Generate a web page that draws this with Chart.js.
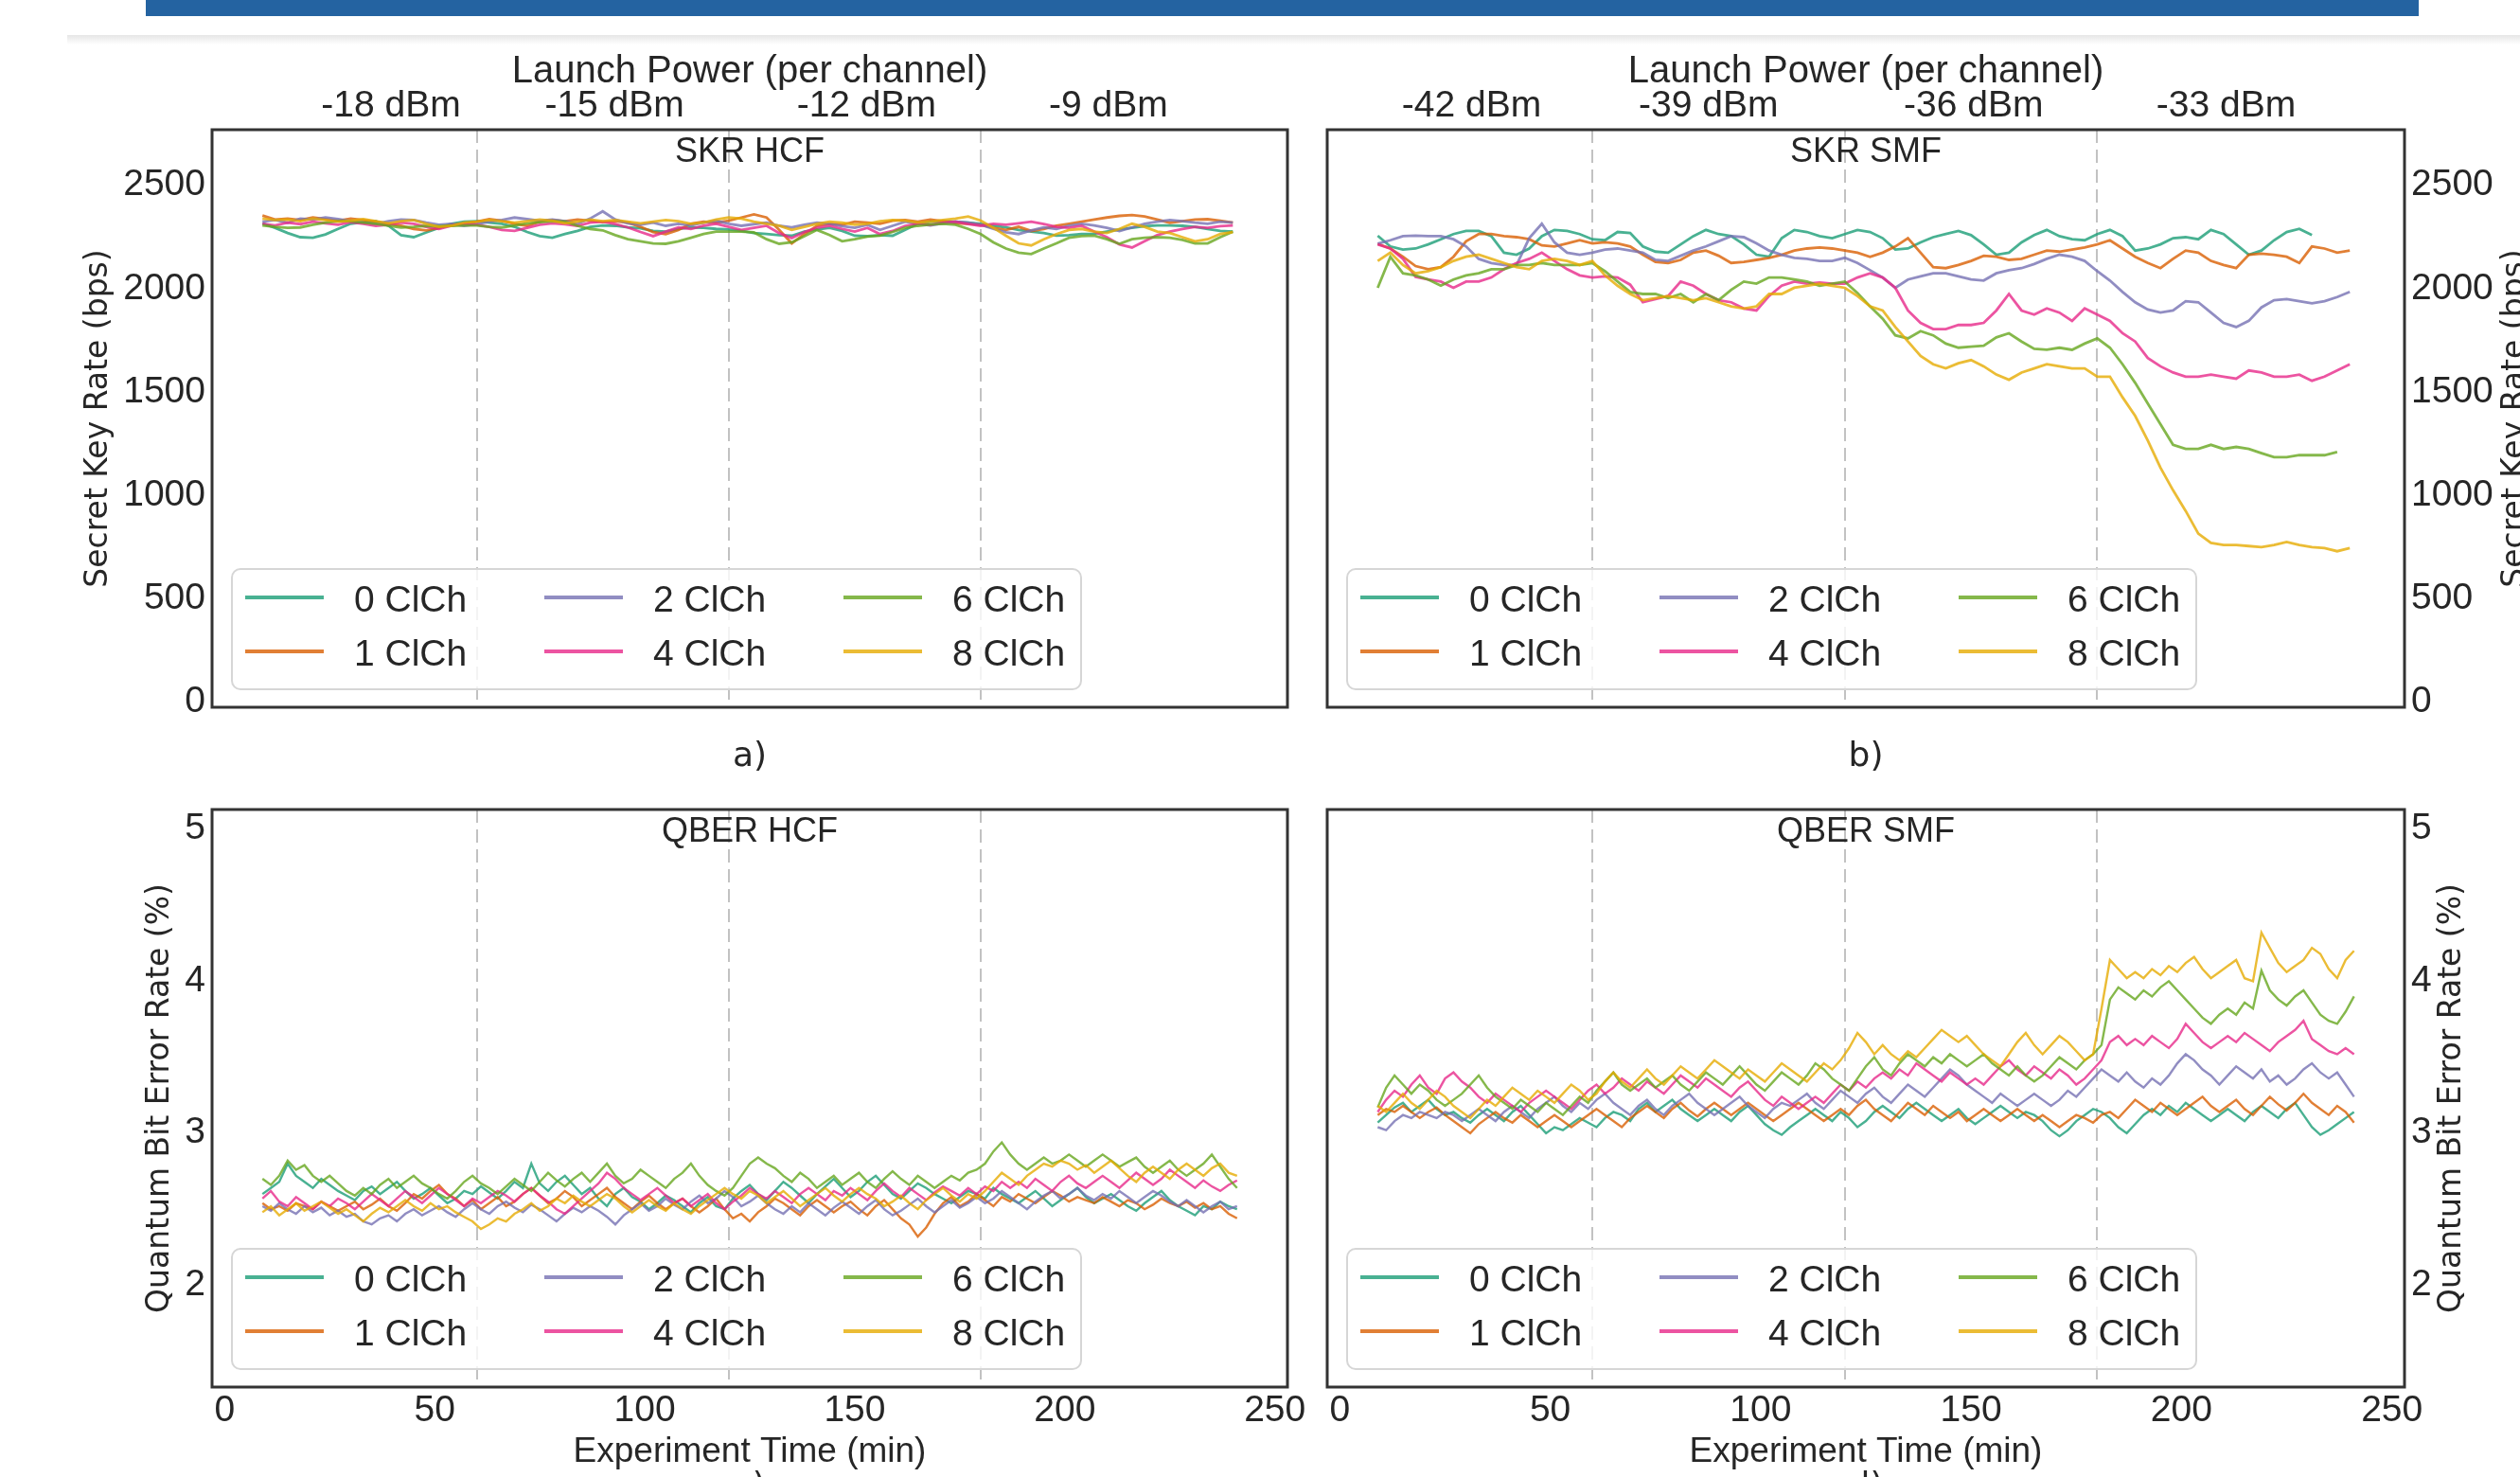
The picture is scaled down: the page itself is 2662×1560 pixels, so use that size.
<!DOCTYPE html>
<html>
<head>
<meta charset="utf-8">
<script src="https://cdn.jsdelivr.net/npm/chart.js@4.4.1/dist/chart.umd.min.js"></script>
<style>
  body { margin: 0; width: 2662px; height: 1560px; background: #fff; overflow: hidden; position: relative; }
  #topbar { position: absolute; left: 154px; top: 0; width: 2401px; height: 17px; background: #2463a1; }
  #shade { position: absolute; left: 71px; top: 37px; right: 0; height: 10px; background: linear-gradient(#e6e6e6, #fff); }
  canvas { position: absolute; }
</style>
</head>
<body>
<div id="topbar"></div>
<div id="shade"></div>
<canvas id="c_skr_hcf" width="1380" height="830" style="left:0;top:0"></canvas>
<canvas id="c_skr_smf" width="1282" height="830" style="left:1380px;top:0"></canvas>
<canvas id="c_qber_hcf" width="1380" height="730" style="left:0;top:830px"></canvas>
<canvas id="c_qber_smf" width="1282" height="730" style="left:1380px;top:830px"></canvas>
<script>
// **** DATA
const seriesNames = ['0 ClCh', '1 ClCh', '2 ClCh', '4 ClCh', '6 ClCh', '8 ClCh']

// SKR sampled every 3 min
const skrTime = [9,12,15,18,21,24,27,30,33,36,39,42,45,48,51,54,57,60,63,66,69,72,75,78,81,84,87,90,93,96,
  99,102,105,108,111,114,117,120,123,126,129,132,135,138,141,144,147,150,153,156,159,162,165,168,171,174,177,180,183,186,
  189,192,195,198,201,204,207,210,213,216,219,222,225,228,231,234,237,240]

const skrHcf0 = [2302,2280,2255,2235,2232,2248,2275,2300,2308,2312,
  2290,2245,2235,2258,2280,2300,2310,2312,2305,2300,
  2285,2260,2240,2232,2250,2265,2285,2292,2290,2282,
  2278,2265,2262,2275,2282,2280,2275,2272,2265,2255,
  2250,2245,2242,2262,2272,2280,2265,2242,2240,2245,
  2242,2270,2300,2310,2312,2310,2305,2300,2290,2282,
  2270,2262,2255,2242,2245,2250,2252,2262,2272,2280,
  2288,2292,2292,2290,2285,2275,2265,2262]
const skrHcf1 = [2340,2320,2325,2318,2330,2322,2315,2325,2318,2310,
  2300,2290,2275,2268,2280,2295,2300,2310,2322,2315,
  2300,2290,2310,2318,2312,2320,2315,2308,2312,2305,
  2285,2260,2250,2270,2300,2310,2305,2315,2330,2345,
  2330,2270,2205,2250,2290,2300,2295,2310,2305,2300,
  2315,2318,2310,2320,2312,2302,2300,2295,2280,2270,
  2285,2265,2275,2290,2300,2310,2320,2330,2338,2342,
  2335,2320,2305,2312,2320,2322,2315,2305]
const skrHcf2 = [2310,2318,2305,2325,2320,2330,2322,2312,2305,2300,
  2312,2320,2318,2305,2295,2300,2290,2298,2310,2318,
  2330,2322,2315,2320,2312,2300,2325,2360,2320,2302,
  2295,2305,2290,2300,2292,2305,2315,2300,2290,2298,
  2305,2290,2282,2295,2305,2300,2288,2280,2295,2270,
  2290,2310,2300,2292,2302,2310,2305,2295,2275,2258,
  2250,2268,2282,2275,2290,2300,2292,2280,2265,2282,
  2300,2310,2318,2312,2305,2300,2310,2305]
const skrHcf4 = [2300,2292,2305,2298,2310,2302,2295,2308,2300,2290,
  2295,2305,2300,2285,2275,2290,2300,2295,2285,2270,
  2265,2280,2295,2302,2298,2290,2305,2310,2298,2282,
  2260,2240,2262,2282,2275,2290,2300,2285,2270,2280,
  2290,2255,2230,2260,2280,2290,2275,2262,2280,2250,
  2265,2290,2300,2295,2305,2310,2298,2290,2300,2295,
  2302,2310,2298,2285,2280,2290,2262,2235,2200,2185,
  2215,2245,2262,2275,2285,2280,2288,2292]
const skrHcf6 = [2292,2285,2280,2282,2295,2305,2312,2312,2305,2300,
  2290,2282,2285,2290,2288,2290,2292,2292,2285,2282,
  2292,2302,2308,2312,2310,2290,2275,2268,2245,2225,
  2215,2205,2203,2215,2232,2250,2262,2262,2262,2258,
  2225,2203,2210,2240,2270,2245,2215,2225,2238,2242,
  2260,2280,2290,2296,2300,2295,2275,2250,2210,2180,
  2160,2153,2180,2205,2232,2240,2242,2225,2203,2225,
  2232,2235,2232,2222,2205,2205,2235,2262]
const skrHcf8 = [2325,2318,2320,2312,2325,2318,2310,2315,2322,2312,
  2302,2312,2318,2300,2285,2290,2305,2310,2318,2312,
  2305,2312,2320,2315,2302,2310,2320,2312,2318,2310,
  2302,2310,2318,2312,2300,2305,2320,2330,2325,2310,
  2300,2290,2270,2285,2300,2310,2305,2295,2300,2312,
  2318,2315,2305,2310,2318,2325,2335,2315,2280,2242,
  2205,2195,2225,2250,2270,2275,2262,2255,2275,2300,
  2285,2262,2255,2235,2215,2225,2250,2260]

const skrSmf0 = [2242,2190,2175,2180,2200,2225,2250,2265,2265,2240,
  2160,2150,2180,2240,2270,2265,2250,2225,2220,2260,
  2255,2190,2165,2160,2200,2240,2270,2250,2240,2200,
  2150,2140,2230,2270,2260,2240,2230,2250,2270,2260,
  2230,2175,2180,2210,2235,2250,2265,2245,2200,2150,
  2160,2210,2245,2270,2240,2225,2220,2250,2270,2240,
  2170,2180,2200,2230,2235,2225,2270,2250,2200,2150,
  2170,2220,2260,2275,2245]
const skrSmf1 = [2203,2180,2140,2095,2080,2090,2140,2215,2250,2250,
  2240,2235,2225,2195,2190,2205,2220,2205,2210,2205,
  2190,2150,2115,2110,2125,2160,2170,2145,2110,2115,
  2125,2135,2150,2170,2180,2185,2180,2170,2160,2140,
  2160,2190,2230,2160,2090,2085,2100,2120,2145,2140,
  2125,2130,2150,2170,2165,2175,2185,2200,2220,2180,
  2140,2110,2085,2130,2170,2160,2120,2100,2085,2150,
  2155,2150,2140,2110,2190,2180,2160,2170]
const skrSmf2 = [2203,2220,2240,2242,2240,2240,2225,2190,2130,2110,
  2100,2100,2230,2300,2210,2160,2150,2160,2175,2180,
  2170,2160,2125,2120,2145,2170,2190,2215,2240,2235,
  2205,2170,2150,2135,2130,2120,2120,2135,2110,2075,
  2040,1990,2030,2045,2060,2060,2045,2030,2025,2060,
  2075,2085,2105,2130,2150,2140,2120,2070,2025,1970,
  1920,1885,1870,1880,1925,1920,1870,1820,1800,1830,
  1895,1930,1935,1925,1915,1925,1945,1970]
const skrSmf4 = [2200,2180,2130,2043,2030,2020,1990,2020,2020,2040,
  2080,2110,2130,2160,2120,2080,2050,2040,2045,2040,
  2005,1920,1935,1950,2020,2000,1960,1930,1920,1890,
  1880,1950,2000,2020,2010,2015,2010,2010,2040,2060,
  2040,1990,1880,1820,1790,1790,1810,1810,1820,1880,
  1960,1880,1860,1890,1870,1830,1890,1860,1830,1770,
  1730,1650,1610,1580,1560,1560,1570,1560,1550,1590,
  1580,1560,1560,1570,1540,1560,1590,1620]
const skrSmf6 = [1990,2140,2060,2050,2030,2000,2030,2050,2060,2080,
  2080,2100,2100,2110,2100,2100,2100,2110,2070,2020,
  1970,1960,1960,1940,1960,1920,1960,1930,1980,2020,
  2010,2040,2040,2030,2020,2000,2010,2020,1965,1900,
  1840,1760,1745,1780,1760,1720,1700,1705,1710,1750,
  1770,1730,1695,1690,1700,1690,1720,1745,1700,1620,
  1530,1430,1330,1230,1210,1210,1230,1210,1220,1210,
  1190,1170,1170,1180,1180,1180,1195]
const skrSmf8 = [2120,2160,2100,2060,2070,2090,2120,2140,2150,2130,
  2110,2090,2080,2120,2130,2120,2100,2120,2050,2000,
  1960,1930,1940,1950,1940,1930,1940,1920,1900,1890,
  1900,1960,1960,1990,2000,2010,2000,1990,1950,1900,
  1880,1800,1730,1660,1620,1600,1625,1640,1610,1570,
  1545,1580,1600,1620,1610,1600,1600,1560,1560,1460,
  1370,1250,1120,1010,910,800,755,745,745,740,
  735,745,760,745,735,730,715,730]

// QBER sampled every 2 min
const qberTime = [9,11,13,15,17,19,21,23,25,27,29,31,33,35,37,39,41,43,45,47,
  49,51,53,55,57,59,61,63,65,67,69,71,73,75,77,79,81,83,85,87,
  89,91,93,95,97,99,101,103,105,107,109,111,113,115,117,119,121,123,125,127,
  129,131,133,135,137,139,141,143,145,147,149,151,153,155,157,159,161,163,165,167,
  169,171,173,175,177,179,181,183,185,187,189,191,193,195,197,199,201,203,205,207,
  209,211,213,215,217,219,221,223,225,227,229,231,233,235,237,239,241]

const qberHcf0 = [2.58,2.62,2.66,2.78,2.70,2.66,2.62,2.68,2.64,2.60,
  2.57,2.54,2.60,2.63,2.58,2.62,2.66,2.60,2.55,2.58,
  2.62,2.57,2.52,2.55,2.60,2.58,2.63,2.59,2.55,2.60,
  2.66,2.62,2.78,2.65,2.60,2.66,2.70,2.64,2.58,2.62,
  2.55,2.50,2.58,2.62,2.56,2.53,2.48,2.52,2.57,2.54,
  2.50,2.46,2.52,2.56,2.50,2.48,2.55,2.60,2.64,2.58,
  2.54,2.60,2.66,2.62,2.57,2.52,2.58,2.63,2.68,2.62,
  2.56,2.60,2.66,2.70,2.64,2.58,2.55,2.60,2.65,2.62,
  2.58,2.55,2.52,2.56,2.60,2.58,2.55,2.62,2.58,2.55,
  2.52,2.56,2.60,2.55,2.50,2.54,2.58,2.62,2.56,2.52,
  2.55,2.58,2.54,2.50,2.47,2.52,2.56,2.60,2.54,2.50,
  2.47,2.44,2.50,2.48,2.53,2.50,2.48]
const qberHcf1 = [2.52,2.48,2.50,2.47,2.52,2.50,2.48,2.53,2.50,2.47,
  2.50,2.53,2.48,2.51,2.55,2.50,2.47,2.52,2.58,2.55,
  2.60,2.64,2.58,2.55,2.50,2.54,2.48,2.52,2.56,2.50,
  2.53,2.58,2.62,2.57,2.52,2.55,2.60,2.56,2.50,2.54,
  2.58,2.62,2.56,2.52,2.48,2.53,2.57,2.52,2.48,2.52,
  2.55,2.50,2.46,2.50,2.55,2.48,2.42,2.45,2.40,2.46,
  2.50,2.55,2.52,2.48,2.44,2.50,2.54,2.50,2.46,2.50,
  2.53,2.48,2.44,2.50,2.54,2.48,2.42,2.38,2.30,2.36,
  2.45,2.52,2.56,2.50,2.53,2.58,2.54,2.50,2.56,2.53,
  2.58,2.55,2.52,2.56,2.60,2.57,2.53,2.56,2.54,2.52,
  2.56,2.53,2.50,2.54,2.52,2.48,2.51,2.55,2.52,2.50,
  2.53,2.49,2.52,2.48,2.50,2.45,2.42]
const qberHcf2 = [2.50,2.47,2.52,2.48,2.45,2.50,2.46,2.49,2.44,2.47,
  2.43,2.45,2.40,2.38,2.42,2.44,2.40,2.45,2.48,2.44,
  2.47,2.50,2.46,2.43,2.48,2.52,2.48,2.45,2.50,2.53,
  2.49,2.46,2.51,2.48,2.44,2.40,2.45,2.49,2.46,2.50,
  2.47,2.43,2.38,2.44,2.48,2.52,2.47,2.50,2.55,2.51,
  2.48,2.53,2.57,2.52,2.55,2.60,2.56,2.50,2.53,2.57,
  2.52,2.48,2.45,2.50,2.46,2.52,2.48,2.44,2.49,2.53,
  2.49,2.45,2.50,2.54,2.48,2.44,2.47,2.51,2.55,2.50,
  2.46,2.50,2.54,2.49,2.52,2.56,2.52,2.55,2.60,2.56,
  2.52,2.48,2.53,2.57,2.60,2.55,2.58,2.62,2.57,2.54,
  2.58,2.55,2.60,2.56,2.52,2.56,2.60,2.57,2.53,2.50,
  2.54,2.50,2.46,2.50,2.53,2.48,2.50]
const qberHcf4 = [2.55,2.60,2.53,2.50,2.56,2.52,2.48,2.53,2.50,2.55,
  2.52,2.48,2.53,2.58,2.54,2.50,2.55,2.60,2.56,2.52,
  2.57,2.62,2.58,2.54,2.50,2.55,2.52,2.56,2.60,2.57,
  2.53,2.58,2.62,2.57,2.53,2.48,2.45,2.50,2.55,2.60,
  2.65,2.72,2.68,2.62,2.58,2.54,2.58,2.62,2.57,2.52,
  2.55,2.50,2.54,2.58,2.52,2.48,2.53,2.57,2.62,2.58,
  2.55,2.60,2.56,2.52,2.58,2.62,2.58,2.54,2.60,2.57,
  2.62,2.58,2.54,2.60,2.65,2.60,2.56,2.62,2.58,2.54,
  2.59,2.63,2.60,2.57,2.62,2.58,2.63,2.60,2.66,2.62,
  2.66,2.62,2.68,2.64,2.60,2.66,2.70,2.65,2.62,2.66,
  2.70,2.66,2.62,2.67,2.72,2.68,2.64,2.68,2.74,2.70,
  2.66,2.62,2.67,2.63,2.60,2.64,2.67]
const qberHcf6 = [2.68,2.64,2.70,2.80,2.74,2.77,2.70,2.66,2.70,2.65,
  2.60,2.57,2.62,2.58,2.64,2.68,2.62,2.66,2.70,2.65,
  2.62,2.58,2.55,2.60,2.66,2.70,2.65,2.62,2.58,2.63,
  2.68,2.64,2.60,2.66,2.72,2.67,2.63,2.68,2.72,2.66,
  2.72,2.78,2.70,2.65,2.68,2.74,2.70,2.66,2.62,2.68,
  2.72,2.78,2.70,2.64,2.60,2.57,2.62,2.70,2.78,2.82,
  2.78,2.75,2.70,2.66,2.72,2.68,2.62,2.66,2.70,2.64,
  2.68,2.72,2.66,2.62,2.68,2.73,2.68,2.64,2.70,2.66,
  2.62,2.66,2.70,2.67,2.72,2.74,2.78,2.86,2.92,2.84,
  2.78,2.74,2.78,2.82,2.78,2.80,2.84,2.80,2.76,2.80,
  2.84,2.80,2.76,2.79,2.82,2.76,2.72,2.76,2.80,2.74,
  2.70,2.74,2.78,2.84,2.76,2.68,2.62]
const qberHcf8 = [2.46,2.50,2.44,2.48,2.52,2.47,2.50,2.53,2.49,2.45,
  2.48,2.44,2.40,2.45,2.49,2.46,2.50,2.54,2.50,2.47,
  2.52,2.48,2.50,2.46,2.43,2.40,2.35,2.38,2.42,2.40,
  2.45,2.48,2.52,2.47,2.50,2.55,2.52,2.57,2.53,2.50,
  2.54,2.58,2.55,2.50,2.46,2.50,2.54,2.50,2.47,2.52,
  2.48,2.45,2.50,2.54,2.58,2.62,2.58,2.55,2.60,2.57,
  2.52,2.56,2.60,2.55,2.50,2.54,2.58,2.62,2.57,2.53,
  2.58,2.62,2.58,2.55,2.50,2.53,2.57,2.52,2.48,2.54,
  2.58,2.62,2.57,2.53,2.58,2.55,2.60,2.66,2.72,2.68,
  2.64,2.70,2.74,2.78,2.76,2.80,2.78,2.74,2.77,2.72,
  2.76,2.80,2.75,2.70,2.66,2.72,2.76,2.72,2.68,2.74,
  2.78,2.74,2.70,2.75,2.78,2.72,2.70]

const qberSmf0 = [3.05,3.10,3.15,3.18,3.12,3.16,3.20,3.14,3.10,3.12,
  3.08,3.05,3.10,3.14,3.10,3.06,3.12,3.16,3.10,3.04,
  2.98,3.02,3.00,3.04,3.08,3.05,3.02,3.08,3.12,3.10,
  3.06,3.14,3.18,3.12,3.16,3.20,3.14,3.10,3.06,3.10,
  3.14,3.10,3.06,3.12,3.16,3.10,3.04,3.00,2.97,3.02,
  3.06,3.10,3.14,3.10,3.06,3.12,3.08,3.02,3.06,3.12,
  3.16,3.12,3.08,3.14,3.18,3.14,3.10,3.06,3.10,3.14,
  3.08,3.04,3.08,3.12,3.16,3.12,3.08,3.12,3.10,3.06,
  3.00,2.96,3.00,3.06,3.10,3.14,3.12,3.08,3.02,2.98,
  3.04,3.10,3.14,3.10,3.16,3.12,3.18,3.14,3.10,3.06,
  3.10,3.14,3.10,3.06,3.12,3.16,3.12,3.08,3.14,3.18,
  3.10,3.02,2.97,3.00,3.04,3.08,3.12]
const qberSmf1 = [3.10,3.14,3.12,3.16,3.12,3.08,3.12,3.15,3.10,3.06,
  3.02,2.98,3.04,3.08,3.12,3.08,3.05,3.10,3.06,3.02,
  3.06,3.10,3.06,3.02,3.06,3.10,3.14,3.10,3.06,3.02,
  3.08,3.12,3.16,3.12,3.08,3.14,3.18,3.13,3.09,3.14,
  3.18,3.14,3.10,3.14,3.18,3.14,3.10,3.06,3.10,3.14,
  3.18,3.14,3.10,3.06,3.10,3.14,3.10,3.16,3.20,3.14,
  3.10,3.06,3.12,3.18,3.14,3.10,3.16,3.12,3.08,3.12,
  3.06,3.10,3.14,3.10,3.06,3.10,3.14,3.10,3.06,3.10,
  3.06,3.02,3.06,3.10,3.08,3.05,3.10,3.12,3.08,3.14,
  3.20,3.16,3.12,3.18,3.14,3.10,3.14,3.18,3.22,3.16,
  3.12,3.16,3.20,3.14,3.10,3.16,3.22,3.17,3.13,3.18,
  3.24,3.18,3.14,3.10,3.16,3.12,3.05]
const qberSmf2 = [3.02,3.00,3.06,3.10,3.08,3.12,3.10,3.08,3.12,3.10,
  3.06,3.10,3.14,3.10,3.06,3.12,3.16,3.12,3.08,3.14,
  3.18,3.22,3.16,3.12,3.18,3.14,3.20,3.24,3.18,3.14,
  3.10,3.16,3.20,3.14,3.10,3.16,3.20,3.24,3.18,3.14,
  3.10,3.14,3.18,3.22,3.16,3.12,3.08,3.14,3.18,3.16,
  3.20,3.24,3.18,3.14,3.20,3.26,3.22,3.18,3.24,3.28,
  3.22,3.18,3.24,3.30,3.26,3.22,3.28,3.34,3.40,3.36,
  3.30,3.26,3.22,3.18,3.24,3.20,3.16,3.20,3.24,3.20,
  3.16,3.20,3.26,3.22,3.28,3.34,3.40,3.36,3.32,3.38,
  3.32,3.28,3.34,3.30,3.36,3.44,3.50,3.46,3.40,3.36,
  3.30,3.36,3.42,3.38,3.34,3.40,3.32,3.36,3.30,3.34,
  3.40,3.44,3.38,3.34,3.38,3.30,3.22]
const qberSmf4 = [3.12,3.20,3.26,3.22,3.30,3.36,3.28,3.24,3.34,3.38,
  3.32,3.28,3.22,3.18,3.24,3.20,3.16,3.12,3.18,3.22,
  3.26,3.22,3.18,3.14,3.20,3.26,3.30,3.24,3.28,3.34,
  3.30,3.26,3.32,3.28,3.24,3.30,3.36,3.32,3.28,3.34,
  3.30,3.26,3.22,3.28,3.32,3.26,3.20,3.16,3.22,3.18,
  3.14,3.18,3.22,3.18,3.24,3.30,3.26,3.32,3.28,3.34,
  3.38,3.34,3.40,3.36,3.44,3.40,3.36,3.32,3.38,3.34,
  3.30,3.34,3.30,3.36,3.42,3.46,3.40,3.36,3.42,3.38,
  3.34,3.40,3.36,3.30,3.34,3.40,3.46,3.58,3.62,3.56,
  3.60,3.56,3.62,3.58,3.54,3.60,3.70,3.64,3.58,3.54,
  3.58,3.62,3.58,3.64,3.60,3.56,3.52,3.58,3.62,3.66,
  3.72,3.60,3.56,3.52,3.50,3.54,3.50]
const qberSmf6 = [3.15,3.28,3.36,3.30,3.24,3.30,3.26,3.20,3.16,3.20,
  3.24,3.30,3.36,3.28,3.22,3.18,3.14,3.20,3.16,3.12,
  3.18,3.14,3.10,3.16,3.22,3.18,3.26,3.32,3.38,3.30,
  3.26,3.30,3.34,3.28,3.32,3.36,3.30,3.26,3.32,3.38,
  3.34,3.30,3.36,3.42,3.36,3.30,3.26,3.32,3.38,3.34,
  3.30,3.36,3.44,3.40,3.34,3.30,3.26,3.34,3.42,3.48,
  3.40,3.36,3.44,3.50,3.46,3.42,3.48,3.44,3.50,3.46,
  3.42,3.46,3.50,3.44,3.40,3.36,3.42,3.36,3.32,3.36,
  3.42,3.48,3.44,3.40,3.46,3.50,3.56,3.86,3.94,3.90,
  3.86,3.92,3.88,3.94,3.98,3.92,3.86,3.80,3.74,3.70,
  3.76,3.80,3.76,3.84,3.80,4.05,3.92,3.86,3.82,3.88,
  3.92,3.84,3.76,3.72,3.70,3.78,3.88]
const qberSmf8 = [3.16,3.12,3.18,3.24,3.18,3.14,3.20,3.26,3.22,3.16,
  3.12,3.08,3.14,3.20,3.16,3.22,3.28,3.24,3.20,3.26,
  3.22,3.18,3.24,3.30,3.26,3.20,3.24,3.32,3.38,3.32,
  3.28,3.34,3.40,3.34,3.30,3.36,3.42,3.38,3.34,3.40,
  3.46,3.42,3.38,3.34,3.40,3.36,3.32,3.38,3.44,3.40,
  3.36,3.32,3.38,3.44,3.40,3.46,3.54,3.64,3.58,3.50,
  3.56,3.50,3.46,3.52,3.48,3.54,3.60,3.66,3.62,3.58,
  3.62,3.56,3.50,3.46,3.42,3.50,3.58,3.64,3.56,3.50,
  3.56,3.62,3.58,3.52,3.46,3.50,3.80,4.12,4.06,4.00,
  4.04,4.00,4.06,4.02,4.08,4.04,4.10,4.14,4.06,4.00,
  4.04,4.08,4.12,4.00,3.98,4.30,4.20,4.10,4.04,4.08,
  4.12,4.20,4.16,4.06,4.00,4.12,4.18]

// axes
const xTicks = [0, 50, 100, 150, 200, 250]
const skrTicks = [0, 500, 1000, 1500, 2000, 2500]
const qberTicks = [2, 3, 4, 5]
const powerSteps = [60, 120, 180]        // launch power changed here (min)
const powerHcfPos = [39.6, 92.8, 152.8, 210.4]
const powerHcfLabels = ['-18 dBm', '-15 dBm', '-12 dBm', '-9 dBm']
const powerSmfPos = [31.3, 87.6, 150.6, 210.6]
const powerSmfLabels = ['-42 dBm', '-39 dBm', '-36 dBm', '-33 dBm']
// **** DATA EOF

const seriesColors = ['rgba(27,158,119,0.8)', 'rgba(217,95,2,0.8)', 'rgba(117,112,179,0.8)',
  'rgba(231,41,138,0.8)', 'rgba(102,166,30,0.8)', 'rgba(230,171,2,0.8)']
const SANS = "'Liberation Sans', Arial, sans-serif"
const DEJA = "'DejaVu Sans', sans-serif"
const INK = '#262626'

function roundBox(ctx, x, y, w, h, r) {
    ctx.beginPath()
    ctx.moveTo(x + r, y)
    ctx.lineTo(x + w - r, y)
    ctx.arcTo(x + w, y, x + w, y + r, r)
    ctx.lineTo(x + w, y + h - r)
    ctx.arcTo(x + w, y + h, x + w - r, y + h, r)
    ctx.lineTo(x + r, y + h)
    ctx.arcTo(x, y + h, x, y + h - r, r)
    ctx.lineTo(x, y + r)
    ctx.arcTo(x, y, x + r, y, r)
    ctx.closePath()
}

// dashed power steps, frame, panel title, legend box, y title, caption
const panelDeco = {
    id: 'panelDeco',
    beforeDatasetsDraw(chart) {
        const { ctx, chartArea: a } = chart
        const xs = chart.scales.x
        ctx.save()
        ctx.strokeStyle = '#c2c2c2'
        ctx.lineWidth = 2
        ctx.setLineDash([14, 7])
        powerSteps.forEach(t => {
            const px = Math.round(xs.getPixelForValue(t))
            ctx.beginPath()
            ctx.moveTo(px, a.top)
            ctx.lineTo(px, a.bottom)
            ctx.stroke()
        })
        ctx.restore()
    },
    afterDatasetsDraw(chart, args, o) {
        const { ctx, chartArea: a } = chart
        ctx.save()
        // frame
        ctx.strokeStyle = '#333'
        ctx.lineWidth = 3
        ctx.strokeRect(a.left, a.top, a.right - a.left, a.bottom - a.top)
        // title inside the frame
        ctx.fillStyle = INK
        ctx.font = '36px ' + SANS
        ctx.textAlign = 'center'
        ctx.textBaseline = 'middle'
        ctx.fillText(o.title, (a.left + a.right) / 2, a.top + 24)
        // legend
        const bx = a.left + 21, by = a.bottom - 19 - 127
        roundBox(ctx, bx, by, 897, 127, 9)
        ctx.fillStyle = 'rgba(255,255,255,0.8)'
        ctx.fill()
        ctx.strokeStyle = '#d6d6d6'
        ctx.lineWidth = 2
        ctx.stroke()
        ctx.font = '39px ' + SANS
        ctx.textAlign = 'left'
        chart.data.datasets.forEach((ds, i) => {
            const col = Math.floor(i / 2), row = i % 2
            const x0 = bx + 14 + col * 316, y0 = by + 30 + row * 57
            ctx.strokeStyle = ds.borderColor
            ctx.lineWidth = 4
            ctx.beginPath()
            ctx.moveTo(x0, y0)
            ctx.lineTo(x0 + 83, y0)
            ctx.stroke()
            ctx.fillStyle = INK
            ctx.fillText(ds.label, bx + 129 + col * 316, y0 + 4)
        })
        ctx.restore()
    },
    afterDraw(chart, args, o) {
        const { ctx, chartArea: a } = chart
        ctx.save()
        ctx.fillStyle = INK
        ctx.textAlign = 'center'
        ctx.textBaseline = 'middle'
        ctx.font = '33px ' + DEJA
        ctx.translate(o.yTitleX, (a.top + a.bottom) / 2)
        ctx.rotate(-Math.PI / 2)
        ctx.fillText(o.yTitle, 0, 0)
        ctx.restore()
        ctx.save()
        ctx.fillStyle = INK
        ctx.textAlign = 'center'
        ctx.textBaseline = 'middle'
        ctx.font = '36px ' + DEJA
        ctx.fillText(o.caption, (a.left + a.right) / 2, o.captionY)
        ctx.restore()
    }
}

function makePanel(canvasId, p) {
    const datasets = p.series.map((vals, i) => ({
        label: seriesNames[i],
        data: vals.map((v, k) => ({ x: p.times[k], y: v })),
        borderColor: seriesColors[i],
        borderWidth: p.lw,
        pointRadius: 0,
        tension: 0,
        fill: false,
        order: 10 - i
    }))
    const tickFont = { family: SANS, size: 39, lineHeight: 1 }
    const hasTop = !!p.power
    return new Chart(document.getElementById(canvasId), {
        type: 'line',
        data: { datasets },
        options: {
            responsive: false,
            animation: false,
            events: [],
            layout: { padding: p.pad },
            plugins: {
                legend: { display: false },
                tooltip: { enabled: false },
                panelDeco: { title: p.title, yTitle: p.yTitle, yTitleX: p.yTitleX, caption: p.caption, captionY: p.captionY }
            },
            scales: {
                x: {
                    type: 'linear', position: 'bottom', min: -3, max: 253,
                    display: p.bottomAxis,
                    grid: { display: false, drawTicks: false },
                    border: { display: false },
                    afterBuildTicks: s => { s.ticks = xTicks.map(v => ({ value: v })) },
                    ticks: { color: INK, font: tickFont, padding: 6, maxRotation: 0, autoSkip: false, callback: v => String(v) },
                    title: { display: true, text: 'Experiment Time (min)', color: INK, font: { family: SANS, size: 37, lineHeight: 1 }, padding: { top: 0, bottom: 8 } },
                    afterFit: s => { if (p.bottomAxis) { s.height = 95; s.paddingLeft = 0; s.paddingRight = 0 } }
                },
                xTop: {
                    type: 'linear', axis: 'x', position: 'top', min: -3, max: 253,
                    display: hasTop,
                    grid: { display: false, drawTicks: false },
                    border: { display: false },
                    afterBuildTicks: s => { s.ticks = hasTop ? p.power.pos.map(v => ({ value: v })) : [] },
                    ticks: { color: INK, font: tickFont, padding: 5, maxRotation: 0, autoSkip: false, callback: (v, i) => hasTop ? p.power.labels[i] : '' },
                    title: { display: true, text: 'Launch Power (per channel)', color: INK, font: { family: SANS, size: 40, lineHeight: 1 }, padding: { top: 56, bottom: 0 } },
                    afterFit: s => { if (hasTop) { s.height = 137; s.paddingLeft = 0; s.paddingRight = 0 } }
                },
                y: {
                    type: 'linear', position: p.side, min: p.yMin, max: p.yMax,
                    grid: { display: false, drawTicks: false },
                    border: { display: false },
                    afterBuildTicks: s => { s.ticks = p.yTicks.map(v => ({ value: v })) },
                    ticks: { color: INK, font: tickFont, padding: 7, labelOffset: 3, callback: v => String(v) },
                    afterFit: s => { s.width = p.yWidth; s.paddingTop = 0; s.paddingBottom = 0 }
                }
            }
        },
        plugins: [panelDeco]
    })
}

makePanel('c_skr_hcf', {
    times: skrTime, series: [skrHcf0, skrHcf1, skrHcf2, skrHcf4, skrHcf6, skrHcf8], lw: 2.8,
    pad: { left: 0, right: 20, top: 0, bottom: 83 }, side: 'left', yWidth: 224,
    yMin: -40, yMax: 2755, yTicks: skrTicks, bottomAxis: false,
    power: { pos: powerHcfPos, labels: powerHcfLabels },
    title: 'SKR HCF', yTitle: 'Secret Key Rate (bps)', yTitleX: 104, caption: 'a)', captionY: 800
})
makePanel('c_skr_smf', {
    times: skrTime, series: [skrSmf0, skrSmf1, skrSmf2, skrSmf4, skrSmf6, skrSmf8], lw: 2.8,
    pad: { left: 22, right: 0, top: 0, bottom: 83 }, side: 'right', yWidth: 122,
    yMin: -40, yMax: 2755, yTicks: skrTicks, bottomAxis: false,
    power: { pos: powerSmfPos, labels: powerSmfLabels },
    title: 'SKR SMF', yTitle: 'Secret Key Rate (bps)', yTitleX: 1277, caption: 'b)', captionY: 800
})
makePanel('c_qber_hcf', {
    times: qberTime, series: [qberHcf0, qberHcf1, qberHcf2, qberHcf4, qberHcf6, qberHcf8], lw: 2.4,
    pad: { left: 0, right: 20, top: 25, bottom: 0 }, side: 'left', yWidth: 224,
    yMin: 1.31, yMax: 5.11, yTicks: qberTicks, bottomAxis: true, power: null,
    title: 'QBER HCF', yTitle: 'Quantum Bit Error Rate (%)', yTitleX: 169, caption: 'c)', captionY: 741
})
makePanel('c_qber_smf', {
    times: qberTime, series: [qberSmf0, qberSmf1, qberSmf2, qberSmf4, qberSmf6, qberSmf8], lw: 2.4,
    pad: { left: 22, right: 0, top: 25, bottom: 0 }, side: 'right', yWidth: 122,
    yMin: 1.31, yMax: 5.11, yTicks: qberTicks, bottomAxis: true, power: null,
    title: 'QBER SMF', yTitle: 'Quantum Bit Error Rate (%)', yTitleX: 1210, caption: 'd)', captionY: 741
})
</script>
</body>
</html>
